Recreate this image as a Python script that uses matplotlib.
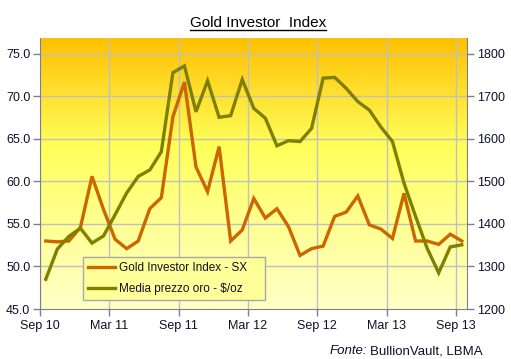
import numpy as np
import matplotlib.pyplot as plt
from matplotlib.colors import LinearSegmentedColormap
from matplotlib.lines import Line2D

plt.rcParams['font.family'] = ['Liberation Sans', 'DejaVu Sans']

# ---- data (monthly, Sep 2010 .. Sep 2013) ----
tick_labels = ["Sep 10", "Mar 11", "Sep 11", "Mar 12", "Sep 12", "Mar 13", "Sep 13"]
tick_months = [0, 6, 12, 18, 24, 30, 36]

gold_investor_index = [
    53.0, 52.9, 53.0, 54.6, 60.6, 56.7, 53.2, 52.1, 53.0, 56.8, 58.1, 67.6,
    71.7, 61.7, 58.8, 64.1, 53.0, 54.3, 58.0, 55.7, 56.8, 54.7, 51.3, 52.1,
    52.4, 55.9, 56.4, 58.3, 54.9, 54.4, 53.3, 58.6, 53.0, 53.0, 52.6, 53.8,
    53.0,
]
gold_price = [
    1270, 1341, 1371, 1390, 1355, 1372, 1422, 1473, 1512, 1527, 1570, 1756,
    1772, 1664, 1737, 1651, 1655, 1740, 1672, 1649, 1584, 1596, 1594, 1625,
    1743, 1745, 1719, 1688, 1668, 1628, 1594, 1496, 1418, 1343, 1285, 1346,
    1351,
]

months = np.arange(len(gold_investor_index)) + 0.5

ORANGE = "#CC6600"
OLIVE = "#808000"
GRID = "#C0C0C0"
AXIS = "#808080"
TXT = "#10102a"

fig = plt.figure(figsize=(5.11, 3.59), dpi=100)
fig.patch.set_facecolor("white")
ax = fig.add_axes([40 / 511, 50 / 359, 427 / 511, 271 / 359])
ax2 = ax.twinx()

x_min, x_max = 0, 36.95
y_min, y_max = 45, 76.88
ax.set_xlim(x_min, x_max)
ax.set_ylim(y_min, y_max)
ax2.set_ylim(1200, 1200 + (y_max - 45) * 20)

# gradient background
cmap = LinearSegmentedColormap.from_list(
    "bg", [(0.0, "#FFFFC8"), (0.35, "#FFFF8C"), (0.6, "#FFFF5A"), (0.8, "#FFE030"), (1.0, "#FFC000")])
grad = np.linspace(0, 1, 256).reshape(-1, 1)
ax.imshow(grad, aspect="auto", cmap=cmap, origin="lower",
          extent=[x_min, x_max, y_min, y_max], zorder=0)

# grid
for m in tick_months:
    ax.axvline(m, color=GRID, lw=1, zorder=1)
for v in range(50, 80, 5):
    ax.axhline(v, color=GRID, lw=1, zorder=1)

l1, = ax.plot(months, gold_investor_index, color=ORANGE, lw=2.4, zorder=3,
              solid_joinstyle="miter")
l2, = ax2.plot(months, gold_price, color=OLIVE, lw=2.4, zorder=3,
               solid_joinstyle="miter")

ax.set_xticks(tick_months)
ax.set_xticklabels(tick_labels)
ax.set_yticks(np.arange(45, 76, 5))
ax.set_yticklabels([f"{v:.1f}" for v in np.arange(45, 76, 5)])
ax2.set_yticks(np.arange(1200, 1801, 100))

for a in (ax, ax2):
    for s in a.spines.values():
        s.set_color(AXIS)
    a.spines["top"].set_visible(False)
    a.tick_params(colors=AXIS, labelcolor=TXT, labelsize=9, length=5, width=1, pad=2)
ax.spines["right"].set_visible(False)
ax2.spines["left"].set_visible(False)
ax2.spines["bottom"].set_visible(False)
ax.tick_params(axis="x", pad=3)

leg = ax2.legend([l1, l2], ["Gold Investor Index - SX", "Media prezzo oro - $/oz"],
                 loc="lower left", bbox_to_anchor=(0.1007, 0.033, 0.4263, 0.148),
                 mode="expand", borderaxespad=0, fancybox=False, framealpha=1,
                 facecolor="#FFFF99", edgecolor="#A8A8A8", fontsize=8.5,
                 handlelength=2.3, handletextpad=0.3, labelspacing=0.75,
                 borderpad=0.45)
leg.get_frame().set_linewidth(1)
for t in leg.get_texts():
    t.set_color(TXT)
leg.set_zorder(5)

# title with underline
title = fig.text(258 / 511, 1 - 27 / 359, "Gold Investor  Index", ha="center",
                 va="baseline", fontsize=11, color="black")
fig.canvas.draw()
r = fig.canvas.get_renderer()
bb = title.get_window_extent(r)
uy = 1 - 29.5 / 359
fig.add_artist(Line2D([bb.x0 / fig.bbox.width, bb.x1 / fig.bbox.width], [uy, uy],
                      color="black", lw=1, transform=fig.transFigure))

# source note
src = fig.text(483 / 511, 1 - 354 / 359, "BullionVault, LBMA", ha="right",
               va="baseline", fontsize=9.5, color=TXT)
fig.canvas.draw()
bb2 = src.get_window_extent(r)
fig.text((bb2.x0 - 3) / fig.bbox.width, 1 - 354 / 359, "Fonte:", ha="right",
         va="baseline", fontsize=9.5, style="italic", color=TXT)

fig.savefig("out.png", dpi=100)
